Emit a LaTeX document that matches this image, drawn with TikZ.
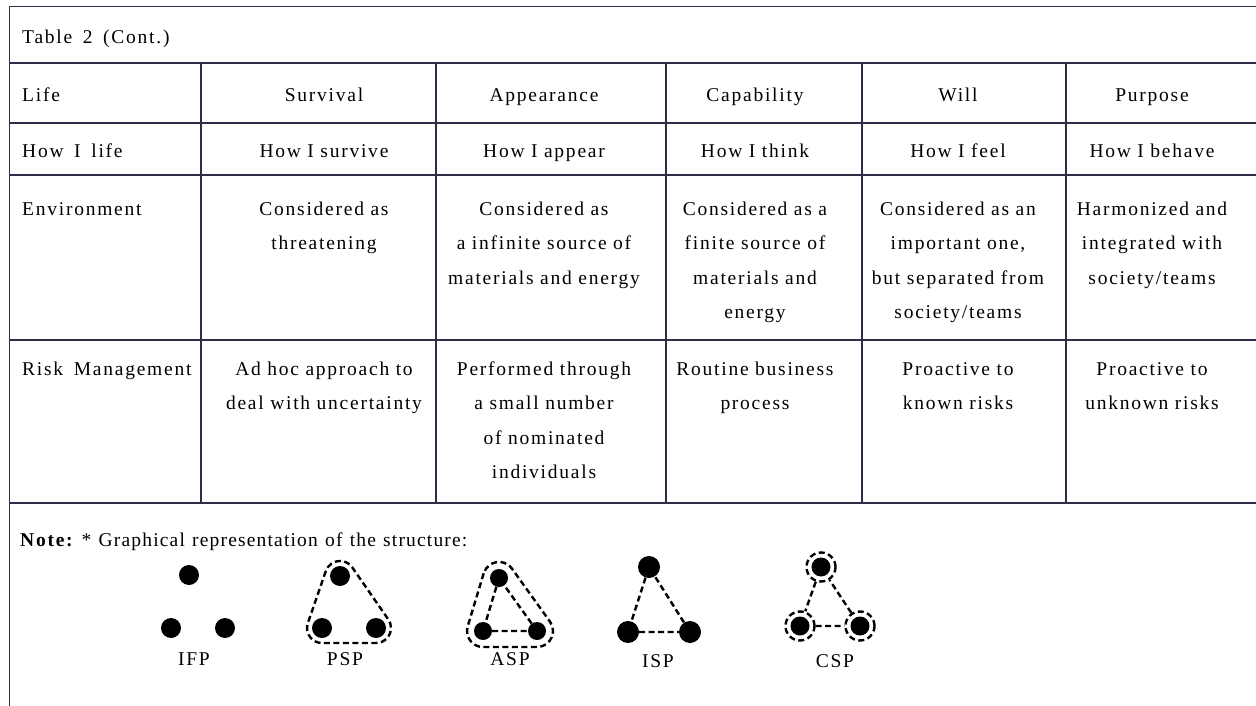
\documentclass[tikz,border=0pt]{standalone}
\usepackage{fontspec}
\setmainfont{Liberation Serif}[LetterSpace=9,WordSpace=1.6]
\newfontfamily\notefont{Liberation Serif}[LetterSpace=6,WordSpace=1.2]
\usetikzlibrary{calc}
\definecolor{tl}{RGB}{45,45,70}
\tikzset{
  tline/.style={draw=tl, line width=1.3pt},
  txt/.style={font=\fontsize{19.5}{34.5}\selectfont, inner sep=0pt, anchor=base},
  ctxt/.style={txt, text width=230pt, align=center},
  ltxt/.style={txt, anchor=base west},
  blob/.style={circle, fill=black, inner sep=0pt, minimum size=#1},
  dashline/.style={line width=2.4pt, dash pattern=on 6pt off 3.5pt},
  ring/.style={circle, draw, dashline, inner sep=0pt, minimum size=29pt},
}
\newcommand\hullloop[4]{%
  \draw[dashline] let \p1=($(#2.center)-(#1.center)$), \p2=($(#3.center)-(#2.center)$), \p3=($(#1.center)-(#3.center)$),
    \n1={atan2(\y1,\x1)-90}, \n2={atan2(\y2,\x2)-90}, \n3={atan2(\y3,\x3)-90},
    \n4={mod(\n2-\n1+720,360)}, \n5={mod(\n3-\n2+720,360)}, \n6={mod(\n1-\n3+720,360)} in
    ($(#1.center)+(\n1:#4)$) -- ($(#2.center)+(\n1:#4)$) arc[start angle=\n1, delta angle=\n4, radius=#4]
    -- ($(#3.center)+(\n2:#4)$) arc[start angle=\n2, delta angle=\n5, radius=#4]
    -- ($(#1.center)+(\n3:#4)$) arc[start angle=\n3, delta angle=\n6, radius=#4] -- cycle;
}
\begin{document}
\begin{tikzpicture}[x=1pt,y=-1pt]
\useasboundingbox (0,0) rectangle (1256,706);
% table rules
\draw[tline] (9.5,706) -- (9.5,6.5) -- (1256,6.5);
\draw[tline] (9.5,63) -- (1256,63);
\draw[tline] (9.5,123) -- (1256,123);
\draw[tline] (9.5,175) -- (1256,175);
\draw[tline] (9.5,340) -- (1256,340);
\draw[tline] (9.5,503) -- (1256,503);
\foreach \cx in {201,436,666,862,1066} \draw[tline] (\cx,63) -- (\cx,503);
% title
\node[ltxt] (title) at (22,44) {Table 2 (Cont.)};
% row 1
\node[ltxt] (r1c1) at (22,102) {Life};
\node[ctxt] (r1c2) at (324,102) {Survival};
\node[ctxt] (r1c3) at (544,102) {Appearance};
\node[ctxt] (r1c4) at (755,102) {Capability};
\node[ctxt] (r1c5) at (958,102) {Will};
\node[ctxt] (r1c6) at (1152,102) {Purpose};
% row 2
\node[ltxt] (r2c1) at (22,158) {How I life};
\node[ctxt] (r2c2) at (324,158) {How I survive};
\node[ctxt] (r2c3) at (544,158) {How I appear};
\node[ctxt] (r2c4) at (755,158) {How I think};
\node[ctxt] (r2c5) at (958,158) {How I feel};
\node[ctxt] (r2c6) at (1152,158) {How I behave};
% row 3
\node[ltxt] (r3c1) at (22,215) {Environment};
\node[ctxt] (r3c2) at (324,215) {Considered as\\threatening};
\node[ctxt] (r3c3) at (544,215) {Considered as\\a infinite source of\\materials and energy};
\node[ctxt] (r3c4) at (755,215) {Considered as a\\finite source of\\materials and\\energy};
\node[ctxt] (r3c5) at (958,215) {Considered as an\\important one,\\but separated from\\society/teams};
\node[ctxt] (r3c6) at (1152,215) {Harmonized and\\integrated with\\society/teams};
% row 4
\node[ltxt] (r4c1) at (22,375) {Risk Management};
\node[ctxt] (r4c2) at (324,375) {Ad hoc approach to\\deal with uncertainty};
\node[ctxt] (r4c3) at (544,375) {Performed through\\a small number\\of nominated\\individuals};
\node[ctxt] (r4c4) at (755,375) {Routine business\\process};
\node[ctxt] (r4c5) at (958,375) {Proactive to\\known risks};
\node[ctxt] (r4c6) at (1152,375) {Proactive to\\unknown risks};
% note
\node[ltxt] (note) at (20,546) {\textbf{Note:}{\notefont\ * Graphical representation of the structure:}};
% IFP
\node[blob=20pt] (ia) at (189,575) {};
\node[blob=20pt] (ib) at (171,628) {};
\node[blob=20pt] (ic) at (225,628) {};
\node[txt] (ifp) at (194,665) {IFP};
% PSP
\node[blob=20pt] (pa) at (340,576) {};
\node[blob=20pt] (pb) at (322,628) {};
\node[blob=20pt] (pc) at (376,628) {};
\hullloop{pa}{pb}{pc}{15pt}
\node[txt] (psp) at (345,665) {PSP};
% ASP
\node[blob=18pt] (aa) at (499,578) {};
\node[blob=18pt] (ab) at (483,631) {};
\node[blob=18pt] (ac) at (537,631) {};
\draw[dashline] (aa) -- (ab) -- (ac) -- (aa);
\hullloop{aa}{ab}{ac}{16pt}
\node[txt] (asp) at (510,665) {ASP};
% ISP
\node[blob=22pt] (sa) at (649,567) {};
\node[blob=22pt] (sb) at (628,632) {};
\node[blob=22pt] (sc) at (690,632) {};
\draw[dashline] (sa) -- (sb) -- (sc) -- (sa);
\node[txt] (isp) at (658,667) {ISP};
% CSP
\node[blob=19pt] (ca) at (821,567) {};
\node[blob=19pt] (cb) at (800,626) {};
\node[blob=19pt] (cc) at (860,626) {};
\node[ring] (ra) at (ca) {};
\node[ring] (rb) at (cb) {};
\node[ring] (rc) at (cc) {};
\draw[dashline] (ra) -- (rb) -- (rc) -- (ra);
\node[txt] (csp) at (835,667) {CSP};
\end{tikzpicture}
\end{document}
